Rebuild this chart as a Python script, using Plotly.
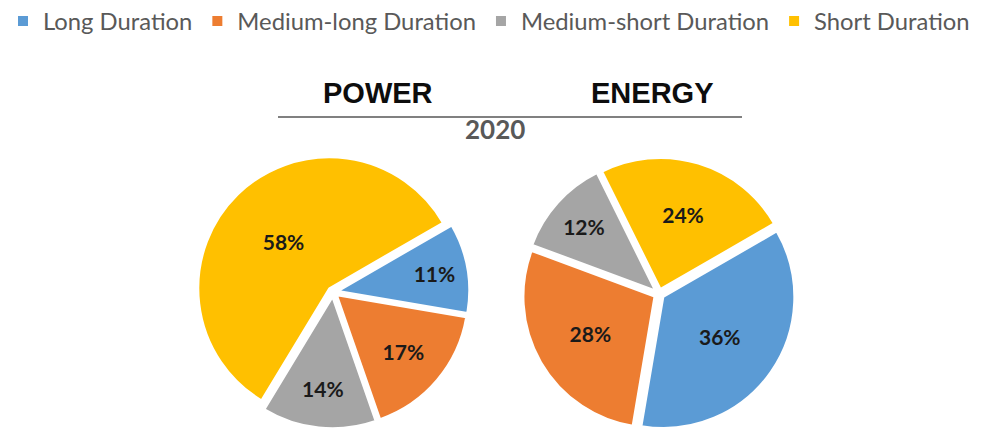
import plotly.graph_objects as go

categories = ["Long Duration", "Medium-long Duration", "Medium-short Duration", "Short Duration"]
power_share = [11, 17, 14, 58]
energy_share = [36, 28, 12, 24]
colors = ["#5B9BD5", "#ED7D31", "#A5A5A5", "#FFC000"]
titles = ["POWER", "ENERGY"]
year_label = "2020"

W, H = 986, 430

def pie(values, dom_x, dom_y, name):
    return go.Pie(
        labels=categories,
        values=values,
        name=name,
        sort=False,
        direction="clockwise",
        rotation=60,
        pull=[0.04] * len(values),
        marker=dict(colors=colors, line=dict(color="white", width=2)),
        texttemplate="%{value}%",
        textposition="inside",
        insidetextorientation="horizontal",
        textfont=dict(family="Lato", size=21, color="#1a1a1a", weight="bold"),
        domain=dict(x=dom_x, y=dom_y),
        hoverinfo="label+percent",
    )

fig = go.Figure()
fig.add_trace(pie(power_share, [188.75 / W, 461.25 / W], [9.75 / H, 282.25 / H], titles[0]))
fig.add_trace(pie(energy_share, [514.75 / W, 787.25 / W], [7.75 / H, 280.25 / H], titles[1]))

fig.update_layout(
    width=W,
    height=H,
    margin=dict(l=0, r=0, t=0, b=0, pad=0, autoexpand=False),
    paper_bgcolor="white",
    plot_bgcolor="white",
    showlegend=True,
    legend=dict(
        orientation="h",
        x=481 / W,
        xanchor="center",
        xref="container",
        y=1 - 13 / H,
        yanchor="middle",
        yref="container",
        font=dict(family="Lato", size=23.8, color="#595959"),
        traceorder="normal",
    ),
    annotations=[
        dict(text=titles[0], x=369.5 / W, y=1 - 85 / H, xref="paper", yref="paper",
             showarrow=False, xanchor="center", yanchor="middle",
             font=dict(family="Liberation Sans", size=29, color="#0d0d0d", weight="bold")),
        dict(text=titles[1], x=644 / W, y=1 - 85 / H, xref="paper", yref="paper",
             showarrow=False, xanchor="center", yanchor="middle",
             font=dict(family="Liberation Sans", size=29, color="#0d0d0d", weight="bold")),
        dict(text=year_label, x=487 / W, y=1 - 121 / H, xref="paper", yref="paper",
             showarrow=False, xanchor="center", yanchor="middle",
             font=dict(family="Lato", size=26, color="#595959", weight="bold")),
    ],
    shapes=[
        dict(type="line", xref="paper", yref="paper",
             x0=270 / W, x1=734 / W, y0=1 - 109 / H, y1=1 - 109 / H,
             line=dict(color="#808080", width=2)),
    ],
)

fig.write_html("out.html")
